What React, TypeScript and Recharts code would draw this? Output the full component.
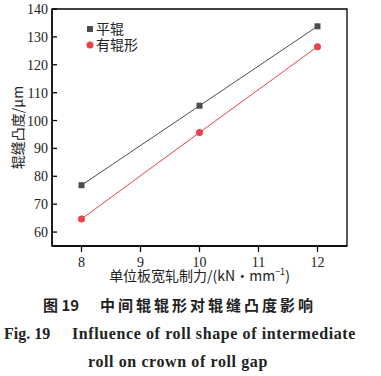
import React from 'react';
import { LineChart, Line, XAxis, YAxis, Legend, ReferenceArea } from 'recharts';

const forces = [8, 10, 12];
const flatRoll = [76.8, 105.3, 133.8];
const shapedRoll = [64.7, 95.7, 126.5];
const xTicks = [8, 9, 10, 11, 12];
const yTicks = [60, 70, 80, 90, 100, 110, 120, 130, 140];

const data = forces.map((f, i) => ({ force: f, flat: flatRoll[i], shaped: shapedRoll[i] }));

const SERIF = '"Liberation Serif", "Times New Roman", serif';
const CJK = '"Noto Sans CJK SC", sans-serif';
const GRAY = '#4d4d4d';
const RED = '#e8424c';
const INK = '#222';
const FRAME = '#000';

const SquareDot = (props: any) => {
  const { cx, cy } = props;
  if (cx == null || cy == null) return null;
  return <rect x={cx - 3} y={cy - 3} width={6} height={6} fill={GRAY} />;
};

const CircleDot = (props: any) => {
  const { cx, cy } = props;
  if (cx == null || cy == null) return null;
  return <circle cx={cx} cy={cy} r={3.5} fill={RED} />;
};

// tickMargin is 2 on the x axis, so the axis line sits at y - 2
const XTick = (props: any) => {
  const { x, y, payload } = props;
  return (
    <g>
      <line x1={x} x2={x} y1={y - 2} y2={y - 7} stroke={FRAME} strokeWidth={1.3} />
      <text x={x} y={y + 13} textAnchor="middle" fontFamily={SERIF} fontSize={14} fill={INK}>
        {payload.value}
      </text>
    </g>
  );
};

// tickMargin is 4 on the y axis, so the axis line sits at x + 4
const YTick = (props: any) => {
  const { x, y, payload } = props;
  return (
    <g>
      <line x1={x + 4} x2={x + 9} y1={y} y2={y} stroke={FRAME} strokeWidth={1.3} />
      <text x={x} y={y + 5} textAnchor="end" fontFamily={SERIF} fontSize={14} fill={INK}>
        {payload.value}
      </text>
    </g>
  );
};

const LegendBox = (props: any) => {
  const { payload } = props;
  return (
    <svg width={70} height={36}>
      {(payload || []).map((p: any, i: number) => (
        <g key={p.value} transform={`translate(0, ${i * 16})`}>
          {i === 0 ? (
            <rect x={2} y={8} width={6} height={6} fill={GRAY} />
          ) : (
            <circle cx={5} cy={11} r={3.5} fill={RED} />
          )}
          <text x={11} y={16} fontFamily={CJK} fontSize={14} fill={INK}>
            {p.value}
          </text>
        </g>
      ))}
    </svg>
  );
};

const XLabel = (props: any) => {
  const { viewBox } = props;
  const cx = viewBox.x + viewBox.width / 2;
  return (
    <text x={cx} y={281} textAnchor="middle" fontFamily={CJK} fontSize={14} fill={INK}>
      单位板宽轧制力/(kN·mm
      <tspan fontSize={9} dy={-6}>−1</tspan>
      <tspan dy={6}>)</tspan>
    </text>
  );
};

const YLabel = (props: any) => {
  const { viewBox } = props;
  const cy = viewBox.y + viewBox.height / 2;
  return (
    <text
      x={17}
      y={cy}
      transform={`rotate(-90, 17, ${cy})`}
      textAnchor="middle"
      dominantBaseline="central"
      fontFamily={CJK}
      fontSize={14}
      fill={INK}
    >
      辊缝凸度/μm
    </text>
  );
};

export default function App() {
  return (
    <div style={{ position: 'absolute', left: 0, top: 0, width: 381, height: 376, background: '#fff' }}>
      <LineChart width={381} height={285} data={data} margin={{ top: 9, right: 34, left: 0, bottom: 0 }}>
        <XAxis
          dataKey="force"
          type="number"
          domain={[7.5, 12.5]}
          ticks={xTicks}
          axisLine={{ stroke: FRAME, strokeWidth: 1.3 }}
          tickLine={false}
          tickMargin={2}
          tick={<XTick />}
          height={39}
          label={<XLabel />}
        />
        <YAxis
          type="number"
          domain={[55, 140]}
          ticks={yTicks}
          axisLine={{ stroke: FRAME, strokeWidth: 1.3 }}
          tickLine={false}
          tickSize={0}
          tickMargin={4}
          tick={<YTick />}
          width={52}
          label={<YLabel />}
        />
        <ReferenceArea
          x1={7.5}
          x2={12.5}
          y1={55}
          y2={140}
          ifOverflow="visible"
          fill="none"
          stroke={FRAME}
          strokeWidth={1.3}
        />
        <Legend
          layout="horizontal"
          verticalAlign="middle"
          align="center"
          content={<LegendBox />}
          wrapperStyle={{ top: 18, left: 85, width: 70 }}
        />
        <Line name="平辊" dataKey="flat" stroke={GRAY} strokeWidth={1} dot={<SquareDot />} isAnimationActive={false} />
        <Line name="有辊形" dataKey="shaped" stroke={RED} strokeWidth={1} dot={<CircleDot />} isAnimationActive={false} />
      </LineChart>
      <svg width={381} height={91} style={{ position: 'absolute', left: 0, top: 285 }}>
        <text x={43} y={26} fontFamily={CJK} fontWeight={700} fontSize={15} fill={INK}>
          图 19
        </text>
        <text x={100} y={26} fontFamily={CJK} fontWeight={700} fontSize={15} letterSpacing={3} fill={INK}>
          中间辊辊形对辊缝凸度影响
        </text>
        <text x={4} y={54} fontFamily={SERIF} fontWeight={700} fontSize={16} fill={INK}>
          Fig. 19
        </text>
        <text x={72} y={54} fontFamily={SERIF} fontWeight={700} fontSize={16} letterSpacing={0.6} fill={INK}>
          Influence of roll shape of intermediate
        </text>
        <text x={88} y={82} fontFamily={SERIF} fontWeight={700} fontSize={16} letterSpacing={0.6} fill={INK}>
          roll on crown of roll gap
        </text>
      </svg>
    </div>
  );
}
